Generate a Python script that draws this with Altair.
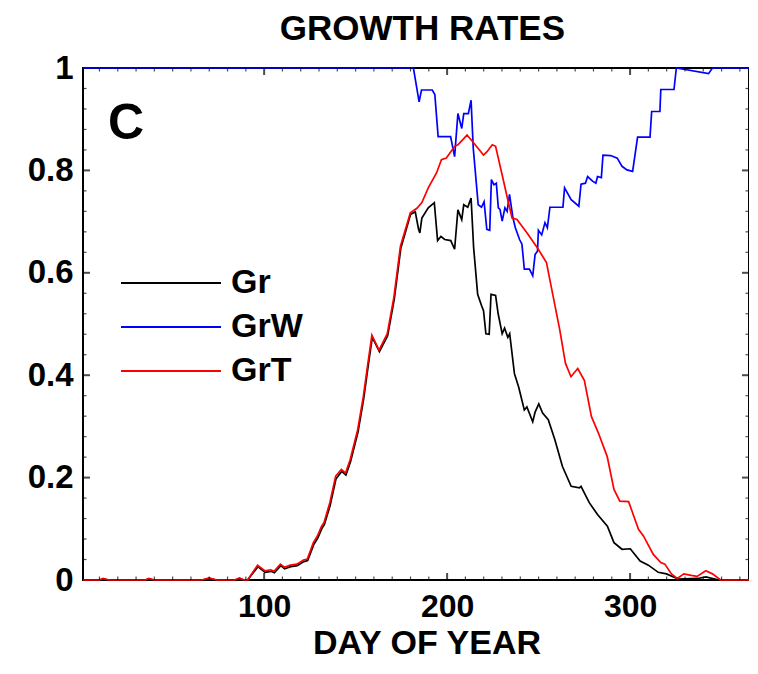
import altair as alt
import pandas as pd

# ---------------- data ----------------
gr_day = [1, 10, 12, 15, 35, 37, 40, 66, 70, 74, 84, 86.5, 89, 91, 96.6, 100.5, 103.8, 105.6,
          109.1, 111.2, 114.5, 118.1, 121.7, 123.8, 127.1, 129.3, 131.6, 132.9, 136.1, 139.3,
          142.4, 144.7, 147.2, 151.3, 154.4, 156.9, 159.1, 163, 167.5, 171.1, 174.7, 180,
          182.6, 184.4, 185.1, 186.2, 189.7, 193, 194.8, 196.6, 198.7, 202, 204.1, 205.9, 208,
          209.1, 211.3, 212.2, 213.1, 214.5, 216.7, 218.8, 219.9, 221.2, 223, 224, 226.5, 227.9,
          230.1, 231.4, 233.2, 234.2, 236.8, 239.1, 242.2, 243.6, 246.8, 248.1, 250.1, 252.2,
          255.3, 258.9, 263, 267.8, 272.3, 273.2, 277.7, 282.2, 287.6, 291.2, 295.6, 300.1,
          305.5, 310, 315.4, 319.9, 326.2, 337, 341.4, 348.6, 365]
gr_val = [0, 0, 0.002, 0, 0, 0.002, 0, 0, 0.003, 0, 0, 0.003, 0, 0, 0.026, 0.015, 0.017, 0.014,
          0.028, 0.022, 0.026, 0.028, 0.036, 0.038, 0.069, 0.082, 0.101, 0.108, 0.146, 0.198,
          0.212, 0.205, 0.231, 0.289, 0.354, 0.419, 0.474, 0.446, 0.477, 0.548, 0.648, 0.714,
          0.719, 0.685, 0.678, 0.707, 0.727, 0.737, 0.663, 0.671, 0.665, 0.663, 0.646, 0.723, 0.704,
          0.733, 0.728, 0.737, 0.746, 0.649, 0.558, 0.536, 0.526, 0.481, 0.480, 0.558, 0.556, 0.520,
          0.481, 0.492, 0.474, 0.481, 0.403, 0.377, 0.332, 0.338, 0.309, 0.328, 0.344, 0.326,
          0.313, 0.274, 0.222, 0.183, 0.180, 0.183, 0.151, 0.128, 0.105, 0.073, 0.060, 0.061,
          0.037, 0.029, 0.015, 0.012, 0.002, 0.003, 0.006, 0, 0]

grw_day = [1, 181.6, 184.7, 186, 191.9, 193.3, 195.1, 201.9, 204.1, 205.9, 208, 209.1, 211.6,
           213.1, 214.3, 217, 218.8, 220.2, 221.7, 223.3, 224.2, 225.6, 226.9, 228, 228.9, 230.1,
           231.6, 232.8, 234.1, 236, 237.3, 239.6, 240.9, 242.2, 245, 246.8, 248.1, 249.4, 249.9,
           251.7, 253.5, 254.8, 256.2, 263.3, 264.2, 267.8, 272, 273.2, 275.6, 276.8, 279.5,
           281.3, 282.2, 284.3, 285.2, 289.4, 293, 295.6, 298.3, 301.4, 304.1, 310.9, 311.8,
           316.3, 316.8, 324, 325.3, 342.9, 345, 365]
grw_val = [1, 1, 0.934, 0.957, 0.957, 0.948, 0.866, 0.866, 0.827, 0.911, 0.882, 0.911, 0.911,
           0.937, 0.843, 0.733, 0.728, 0.739, 0.685, 0.683, 0.782, 0.772, 0.775, 0.727, 0.724, 0.701,
           0.727, 0.720, 0.753, 0.707, 0.688, 0.665, 0.656, 0.607, 0.607, 0.594, 0.636, 0.642, 0.683,
           0.674, 0.698, 0.688, 0.728, 0.728, 0.766, 0.743, 0.730, 0.773, 0.775, 0.788, 0.779,
           0.775, 0.788, 0.786, 0.830, 0.829, 0.824, 0.808, 0.801, 0.798, 0.865, 0.865, 0.915,
           0.915, 0.958, 0.958, 1, 0.989, 1, 1]

grt_day = [1, 10, 12, 15, 35, 37, 40, 66, 70, 74, 84, 86.5, 89, 91, 96.4, 100.3, 103.6, 105.4,
           108.9, 111, 114.3, 117.9, 121.5, 123.6, 126.9, 129.1, 131.4, 132.7, 135.9, 139.1,
           142.2, 144.5, 147, 151.1, 154.2, 156.7, 158.9, 162.8, 167.3, 170.9, 174.5, 179.9,
           183.5, 186.2, 189.7, 194.2, 196.9, 199.6, 204.1, 205.9, 210.9, 214, 219.9, 221.7,
           224.7, 226.5, 230.1, 232.5, 235.5, 238.2, 243.6, 249.3, 254.3, 257.9, 261.5, 264.7,
           267.7, 271.4, 275, 278.9, 282.7, 287.5, 291.2, 294.4, 299.2, 304.6, 307.3, 312.7,
           316.8, 319, 322.6, 325.8, 329.4, 333.4, 336.6, 341.4, 345, 349.5, 365]
grt_val = [0, 0, 0.003, 0, 0, 0.003, 0, 0, 0.004, 0, 0, 0.004, 0, 0, 0.029, 0.018, 0.020, 0.017,
           0.031, 0.025, 0.029, 0.031, 0.039, 0.041, 0.073, 0.086, 0.105, 0.112, 0.151, 0.203,
           0.216, 0.209, 0.235, 0.293, 0.358, 0.423, 0.478, 0.449, 0.481, 0.552, 0.652, 0.717,
           0.726, 0.737, 0.766, 0.795, 0.821, 0.824, 0.847, 0.850, 0.869, 0.856, 0.830, 0.836,
           0.850, 0.847, 0.791, 0.753, 0.707, 0.704, 0.678, 0.649, 0.620, 0.555, 0.490, 0.423,
           0.397, 0.413, 0.390, 0.319, 0.287, 0.241, 0.177, 0.154, 0.153, 0.099, 0.086, 0.050,
           0.034, 0.031, 0.012, 0.003, 0.012, 0.009, 0.007, 0.018, 0.012, 0, 0]

series_names = ["Gr", "GrW", "GrT"]
series_colors = ["#000000", "#0000ff", "#ff0000"]

x_label_values = [100, 200, 300]
x_major_ticks = [100, 200, 300]
x_minor_ticks = [10, 20, 30, 40, 50, 60, 70, 80, 90, 110, 120, 130, 140, 150, 160, 170, 180,
                 190, 210, 220, 230, 240, 250, 260, 270, 280, 290, 310, 320, 330, 340, 350, 360]
y_label_values = [0, 0.2, 0.4, 0.6, 0.8, 1]
y_major_ticks = [0.2, 0.4, 0.6, 0.8]
y_minor_ticks = [0.04, 0.08, 0.12, 0.16, 0.24, 0.28, 0.32, 0.36, 0.44, 0.48, 0.52, 0.56,
                 0.64, 0.68, 0.72, 0.76, 0.84, 0.88, 0.92, 0.96]

X0, X1 = 1, 365
Y0, Y1 = 0, 1

# ---------------- build tables ----------------
df = pd.concat([
    pd.DataFrame({"day": gr_day, "value": gr_val, "series": "Gr"}),
    pd.DataFrame({"day": grw_day, "value": grw_val, "series": "GrW"}),
    pd.DataFrame({"day": grt_day, "value": grt_val, "series": "GrT"}),
], ignore_index=True)

FONT = "Liberation Sans"
W, H = 666, 512

xscale = alt.Scale(domain=[X0, X1], nice=False, zero=False)
yscale = alt.Scale(domain=[Y0, Y1], nice=False, zero=False)

x_axis = alt.Axis(values=x_label_values, ticks=False, domain=False, grid=False,
                  labelFont=FONT, labelFontSize=32, labelFontWeight="bold", labelColor="black",
                  labelPadding=11.5, labelFlush=False,
                  title="DAY OF YEAR", titleFont=FONT, titleFontSize=34, titleFontWeight="bold",
                  titleColor="black", titlePadding=3.5, titleX=343.5, titleAlign="center")
y_axis = alt.Axis(values=y_label_values, ticks=False, domain=False, grid=False,
                  labelExpr="datum.value == 0 ? '0' : datum.value == 1 ? '1' : format(datum.value, '.1f')",
                  labelFont=FONT, labelFontSize=33, labelFontWeight="bold", labelColor="black",
                  labelPadding=10, labelFlush=False, title=None)

color = alt.Color("series:N",
                  scale=alt.Scale(domain=series_names, range=series_colors),
                  legend=alt.Legend(orient="none", legendX=71, legendY=198, title=None,
                                    symbolType="M-20,0L20,0", symbolSize=25, symbolStrokeWidth=2,
                                    labelFont=FONT, labelFontSize=34, labelFontWeight="bold",
                                    labelColor="black", labelOffset=43, rowPadding=10,
                                    padding=0))


def series_layer(name):
    return (alt.Chart(df).transform_filter(alt.datum.series == name)
            .mark_line(strokeWidth=1.7)
            .encode(x=alt.X("day:Q", scale=xscale, axis=x_axis),
                    y=alt.Y("value:Q", scale=yscale, axis=y_axis),
                    color=color))


lines = [series_layer("Gr"), series_layer("GrW"), series_layer("GrT")]


# inward tick marks on all four sides (centered on the frame, outer half clipped)
def xticks(vals, edge, size, thick):
    d = pd.DataFrame({"t": vals, "e": [edge] * len(vals)})
    return alt.Chart(d).mark_tick(orient="vertical", size=size, thickness=thick,
                                  color="black", clip=True).encode(
        x=alt.X("t:Q", scale=xscale, axis=x_axis),
        y=alt.Y("e:Q", scale=yscale, axis=y_axis))


def yticks(vals, edge, size, thick):
    d = pd.DataFrame({"t": vals, "e": [edge] * len(vals)})
    return alt.Chart(d).mark_tick(orient="horizontal", size=size, thickness=thick,
                                  color="black", clip=True).encode(
        y=alt.Y("t:Q", scale=yscale, axis=y_axis),
        x=alt.X("e:Q", scale=xscale, axis=x_axis))


ticks = [xticks(x_minor_ticks, Y0, 7, 1.2), xticks(x_minor_ticks, Y1, 7, 1.2),
         xticks(x_major_ticks, Y0, 14, 2), xticks(x_major_ticks, Y1, 14, 2),
         yticks(y_minor_ticks, X0, 7, 1.2), yticks(y_minor_ticks, X1, 7, 1.2),
         yticks(y_major_ticks, X0, 14, 2), yticks(y_major_ticks, X1, 14, 2)]

# panel letter and heading, placed in data coordinates
text_df = pd.DataFrame({"lab": ["C"], "lx": [24.5], "ly": [0.89]})
panel_label = alt.Chart(text_df).mark_text(
    font=FONT, fontSize=50, fontWeight="bold", color="black", align="center",
    baseline="middle").encode(text="lab:N",
                              x=alt.X("lx:Q", scale=xscale, axis=x_axis),
                              y=alt.Y("ly:Q", scale=yscale, axis=y_axis))

head_df = pd.DataFrame({"lab": ["GROWTH RATES"], "lx": [186.5], "ly": [1.0545]})
heading = alt.Chart(head_df).mark_text(
    font=FONT, fontSize=35, fontWeight="bold", color="black", align="center",
    baseline="alphabetic").encode(text="lab:N",
                                  x=alt.X("lx:Q", scale=xscale, axis=x_axis),
                                  y=alt.Y("ly:Q", scale=yscale, axis=y_axis))

chart = alt.layer(*lines, *ticks, panel_label, heading).properties(
    width=W, height=H,
    autosize=alt.AutoSizeParams(type="none"),
    padding={"left": 75, "top": 60, "right": 0, "bottom": 82},
).configure(background="white").configure_view(stroke="black", strokeWidth=2)

chart.save("out.html", embed_options={"renderer": "svg", "actions": False})
